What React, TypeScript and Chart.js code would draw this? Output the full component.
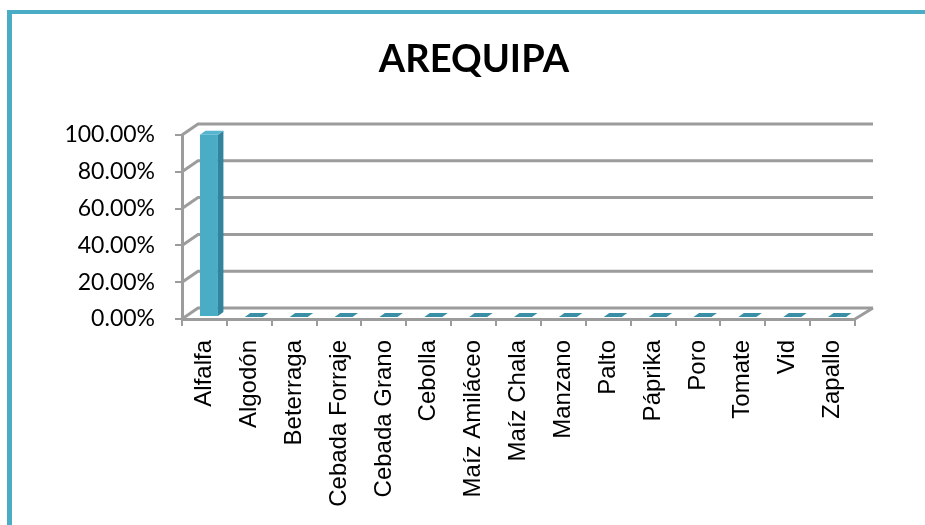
import React, { useEffect, useRef } from "react";
import { Chart, registerables } from "chart.js";

Chart.register(...registerables);

const categories = [
  "Alfalfa",
  "Algodón",
  "Beterraga",
  "Cebada Forraje",
  "Cebada Grano",
  "Cebolla",
  "Maíz Amiláceo",
  "Maíz Chala",
  "Manzano",
  "Palto",
  "Páprika",
  "Poro",
  "Tomate",
  "Vid",
  "Zapallo",
];
const shares = [0.99, 0, 0, 0, 0, 0, 0, 0, 0, 0, 0, 0, 0, 0, 0];
const yTickValues = [0, 0.2, 0.4, 0.6, 0.8, 1.0];
const titleText = "AREQUIPA";

const WALL_DX = 16;
const WALL_DY = 11;
const BAR_SX = 4.5;
const BAR_SY = -2;
const BAR_DX = 5.5;
const BAR_DY = 4;
const GRID = "#9c9c9c";

const framePlugin = {
  id: "frame",
  beforeDraw(chart: any) {
    const { ctx, width, height } = chart;
    ctx.save();
    ctx.fillStyle = "#ffffff";
    ctx.fillRect(0, 0, width, height);
    ctx.fillStyle = "#4bacc6";
    ctx.fillRect(7, 10, 5, height);
    ctx.fillRect(7, 10, width, 4);
    ctx.restore();
  },
  afterDraw(chart: any) {
    const { ctx } = chart;
    ctx.save();
    ctx.fillStyle = "#000000";
    ctx.font = "bold 38px Lato";
    ctx.textAlign = "center";
    ctx.textBaseline = "middle";
    ctx.fillText(titleText, 474, 60);
    ctx.restore();
  },
};

const wallPlugin = {
  id: "wall3d",
  beforeDatasetsDraw(chart: any) {
    const { ctx, chartArea, scales } = chart;
    const y = scales.y;
    ctx.save();
    ctx.strokeStyle = GRID;
    ctx.lineWidth = 3;
    ctx.lineJoin = "miter";
    for (const t of y.ticks) {
      const yp = y.getPixelForValue(t.value);
      ctx.beginPath();
      ctx.moveTo(chartArea.left, yp);
      ctx.lineTo(chartArea.left + WALL_DX, yp - WALL_DY);
      ctx.lineTo(chartArea.right + WALL_DX + 2, yp - WALL_DY);
      ctx.stroke();
    }
    ctx.beginPath();
    ctx.moveTo(chartArea.right, chartArea.bottom);
    ctx.lineTo(chartArea.right + WALL_DX + 2, chartArea.bottom - WALL_DY);
    ctx.stroke();
    ctx.restore();
  },
  beforeDatasetDraw(chart: any) {
    chart.ctx.save();
    chart.ctx.translate(BAR_SX, BAR_SY);
  },
  afterDatasetDraw(chart: any, args: any) {
    const { ctx } = chart;
    ctx.restore();
    const meta = args.meta;
    const data = chart.data.datasets[args.index].data;
    meta.data.forEach((el: any, i: number) => {
      const p = el.getProps(["x", "y", "base", "width"], true);
      const l = p.x - p.width / 2 + BAR_SX;
      const r = p.x + p.width / 2 + BAR_SX;
      const top = p.y + BAR_SY;
      const bot = p.base + BAR_SY;
      ctx.save();
      if (bot - top > 0.5) {
        ctx.fillStyle = "#31849b";
        ctx.beginPath();
        ctx.moveTo(r, top);
        ctx.lineTo(r + BAR_DX, top - BAR_DY);
        ctx.lineTo(r + BAR_DX, bot - BAR_DY);
        ctx.lineTo(r, bot);
        ctx.closePath();
        ctx.fill();
      }
      ctx.fillStyle = data[i] > 0 ? "#56b6cf" : "#3a8ea6";
      ctx.beginPath();
      ctx.moveTo(l, top);
      ctx.lineTo(r, top);
      ctx.lineTo(r + BAR_DX, top - BAR_DY);
      ctx.lineTo(l + BAR_DX, top - BAR_DY);
      ctx.closePath();
      ctx.fill();
      ctx.restore();
    });
  },
};

export default function App() {
  const ref = useRef<HTMLCanvasElement>(null);
  useEffect(() => {
    if (!ref.current) return;
    const chart = new Chart(ref.current, {
      type: "bar",
      data: {
        labels: categories,
        datasets: [
          {
            data: shares,
            backgroundColor: "#4bacc6",
            borderWidth: 0,
            barPercentage: 0.4,
            categoryPercentage: 1.0,
            clip: false as any,
          },
        ],
      },
      options: {
        responsive: false,
        animation: false,
        layout: { padding: { top: 135, right: 70, left: 0, bottom: 0 } },
        plugins: {
          legend: { display: false },
          title: { display: false },
          tooltip: { enabled: false },
        },
        scales: {
          x: {
            afterFit: (s: any) => {
              s.height = 206;
            },
            grid: {
              display: true,
              drawOnChartArea: false,
              drawTicks: true,
              tickLength: 7,
              color: GRID,
              lineWidth: 2,
              offset: true,
            },
            border: { display: true, color: GRID, width: 3 },
            ticks: {
              autoSkip: false,
              minRotation: 90,
              maxRotation: 90,
              padding: 14,
              color: "#000000",
              font: { family: "'Liberation Sans', Arial, sans-serif", size: 24 },
            },
          },
          y: {
            min: 0,
            max: 1,
            afterFit: (s: any) => {
              s.width = 182;
            },
            afterBuildTicks: (s: any) => {
              s.ticks = yTickValues.map((v) => ({ value: v }));
            },
            grid: {
              display: true,
              drawOnChartArea: false,
              drawTicks: true,
              tickLength: 7,
              color: GRID,
              lineWidth: 2,
            },
            border: { display: true, color: GRID, width: 3 },
            ticks: {
              padding: 20,
              color: "#000000",
              font: { family: "Lato", size: 23 },
              callback: (v: any) => (Number(v) * 100).toFixed(2) + "%",
            },
          },
        },
      },
      plugins: [framePlugin, wallPlugin],
    });
    return () => chart.destroy();
  }, []);
  return (
    <div style={{ position: "fixed", left: 0, top: 0, width: 925, height: 525 }}>
      <canvas ref={ref} width={925} height={525} style={{ width: 925, height: 525 }} />
    </div>
  );
}
